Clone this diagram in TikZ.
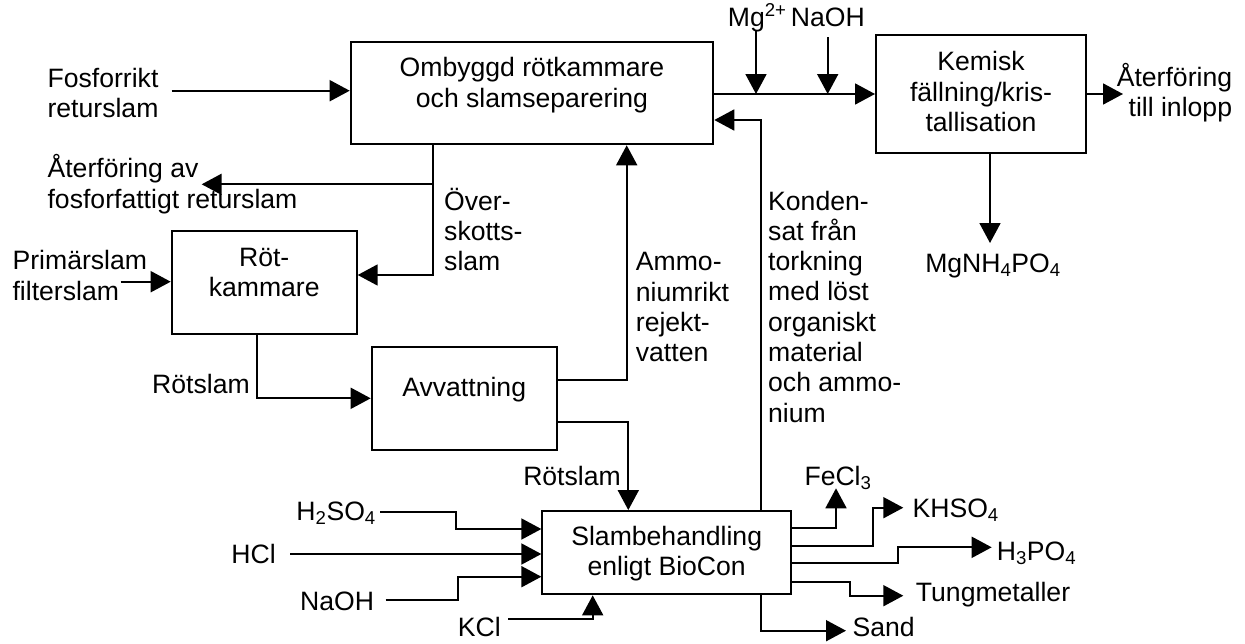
\documentclass[tikz,border=0pt]{standalone}
\usepackage{fontspec}
\setmainfont{Liberation Sans}
\usetikzlibrary{arrows.meta}
\begin{document}
\begin{tikzpicture}[x=1pt,y=-1pt,
  line width=1.8pt,
  box/.style={draw, rectangle, inner sep=0pt, line width=2pt},
  txt/.style={inner sep=0pt, font=\fontsize{26.6}{30.3}\selectfont},
  arr/.style={-{Triangle[length=20pt,width=21pt]}}]
\useasboundingbox[fill=white] (0,0) rectangle (1245,643);

% boxes
\node[box, minimum width=362.6pt, minimum height=102.6pt] (omb) at (532,93) {};
\node[box, minimum width=210pt, minimum height=117.7pt] (kem) at (981,93.8) {};
\node[box, minimum width=185pt, minimum height=103.3pt] (rot) at (264.2,282.3) {};
\node[box, minimum width=185pt, minimum height=102.4pt] (avv) at (464.2,398.5) {};
\node[box, minimum width=248.7pt, minimum height=83.3pt] (slb) at (666.7,552.7) {};

% box texts (base = baseline of last line)
\node[txt, anchor=base, align=center] (ombT) at (532,107) {Ombyggd rötkammare\\och slamseparering};
\node[txt, anchor=base, align=center] (kemT) at (981,131.3) {Kemisk\\fällning/kris-\\tallisation};
\node[txt, anchor=base, align=center] (rotT) at (264.2,296.5) {Röt-\\kammare};
\node[txt, anchor=base, align=center] (avvT) at (464.2,396.7) {Avvattning};
\node[txt, anchor=base, align=center] (slbT) at (666.7,575.5) {Slambehandling\\enligt BioCon};

% labels
\node[txt, anchor=base west, align=left] (fos) at (46.7,117.3) {Fosforrikt\\returslam};
\node[txt, anchor=base west, align=left] (ater1) at (46.7,208) {Återföring av\\fosforfattigt returslam};
\node[txt, anchor=base west, align=left] (prim) at (11.7,300) {Primärslam\\filterslam};
\node[txt, anchor=base west, align=left] (over) at (443.3,270.6) {Över-\\skotts-\\slam};
\node[txt, anchor=base east] (rs1) at (250.7,393.3) {Rötslam};
\node[txt, anchor=base west, align=left] (ammo) at (635,361.6) {Ammo-\\niumrikt\\rejekt-\\vatten};
\node[txt, anchor=base west, align=left] (kond) at (767.3,422.1) {Konden-\\sat från\\torkning\\med löst\\organiskt\\material\\och ammo-\\nium};
\node[txt, anchor=base east] (rs2) at (621.7,485) {Rötslam};
\node[txt, anchor=base west] (mg) at (727,26) {Mg\textsuperscript{2+}};
\node[txt, anchor=base west] (naoh1) at (790,26) {NaOH};
\node[txt, anchor=base east, align=right] (ater2) at (1233,116.3) {Återföring\\till inlopp};
\node[txt, anchor=base] (struv) at (993,272) {MgNH\textsubscript{4}PO\textsubscript{4}};
\node[txt, anchor=base] (fecl) at (838,485) {FeCl\textsubscript{3}};
\node[txt, anchor=base west] (khso) at (911.7,517) {KHSO\textsubscript{4}};
\node[txt, anchor=base west] (hpo) at (996,560) {H\textsubscript{3}PO\textsubscript{4}};
\node[txt, anchor=base west] (tung) at (915,601.7) {Tungmetaller};
\node[txt, anchor=base west] (sand) at (851.7,636.7) {Sand};
\node[txt, anchor=base east] (hso) at (376.7,520) {H\textsubscript{2}SO\textsubscript{4}};
\node[txt, anchor=base east] (hcl) at (276.7,563.3) {HCl};
\node[txt, anchor=base east] (naoh2) at (375,610) {NaOH};
\node[txt, anchor=base east] (kcl) at (501.7,636.7) {KCl};

% free ends
\coordinate (fosS) at (171.7,90.7);
\coordinate (primS) at (120.7,281.7);
\coordinate (overJ) at (432.7,184.3);
\coordinate (aterE) at (201.7,184.3);
\coordinate (mgS) at (756,31);
\coordinate (naS) at (827.7,37);
\coordinate (aterE2) at (1123,94);
\coordinate (struvE) at (990,243);
\coordinate (hsoS) at (380,511.7);
\coordinate (hclS) at (290,554);
\coordinate (naohS) at (385.7,600);
\coordinate (kclS) at (508,619.3);
\coordinate (feE) at (836,488.3);
\coordinate (khE) at (903.3,507.7);
\coordinate (hpE) at (991.7,547.3);
\coordinate (tuE) at (903.3,595.7);
\coordinate (saE) at (846,630.7);

% connectors
\draw[arr] (fosS) -- (omb.west |- fosS);
\draw[arr] (omb.east |- 0,94) -- (kem.west |- 0,94);
\draw[arr] (mgS) -- (mgS |- 0,94);
\draw[arr] (naS) -- (naS |- 0,94);
\draw[arr] (kem.east |- 0,94) -- (aterE2);
\draw[arr] (kem.south -| struvE) -- (struvE);
\draw[arr] (omb.south -| overJ) |- (rot.east |- 0,275);
\draw[arr] (overJ) -- (aterE);
\draw[arr] (primS) -- (rot.west |- primS);
\draw[arr] (rot.south -| 257.3,0) |- (avv.west |- 0,398.3);
\draw[arr] (avv.east |- 0,380) -| (omb.south -| 626.7,0);
\draw[arr] (avv.east |- 0,421.7) -| (slb.north -| 628.3,0);
\draw[arr] (slb.north -| 760.7,0) |- (omb.east |- 0,120);
\draw[arr] (hsoS) -| (455.7,529) -- (slb.west |- 0,529);
\draw[arr] (hclS) -- (slb.west |- hclS);
\draw[arr] (naohS) -| (457.7,576.7) -- (slb.west |- 0,576.7);
\draw[arr] (kclS) -| (slb.south -| 592.7,0);
\draw[arr] (slb.east |- 0,527.7) -| (feE);
\draw[arr] (slb.east |- 0,546) -| (873.3,507.7) -- (khE);
\draw[arr] (slb.east |- 0,563.3) -| (897.7,547.3) -- (hpE);
\draw[arr] (slb.east |- 0,581.7) -| (850,595.7) -- (tuE);
\draw[arr] (slb.south -| 760.7,0) |- (saE);
\end{tikzpicture}
\end{document}
